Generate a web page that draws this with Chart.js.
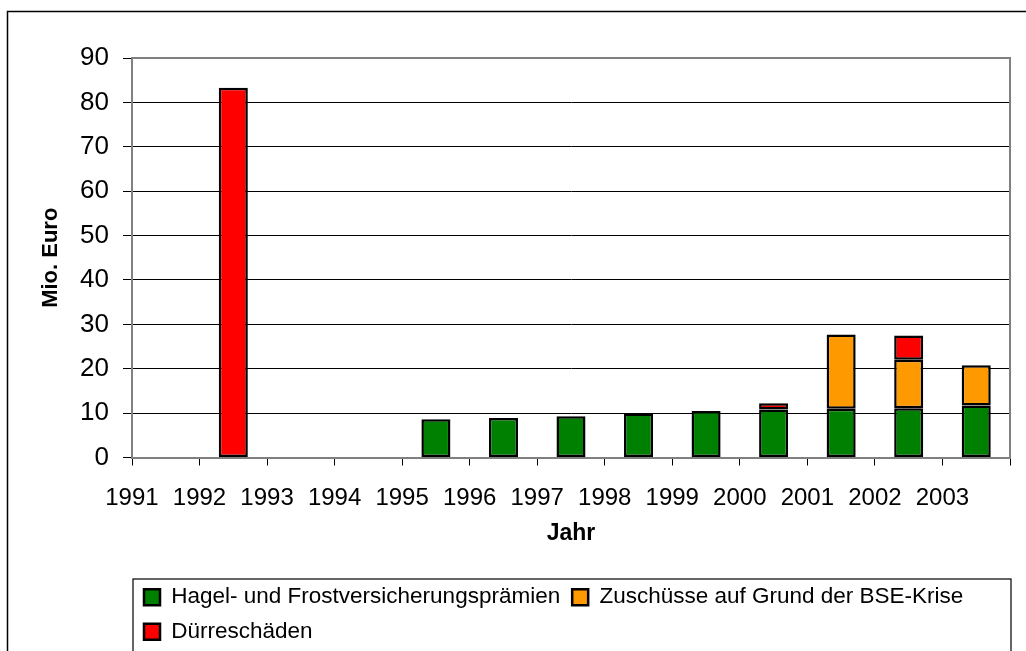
<!DOCTYPE html>
<html>
<head>
<meta charset="utf-8">
<script src="https://cdn.jsdelivr.net/npm/chart.js@4"></script>
<style>
  html, body { margin: 0; padding: 0; background: #fff; }
  canvas { display: block; }
</style>
</head>
<body>
<canvas id="hilfenChart" width="1026" height="651"></canvas>
<script>
// Jahre (Kategorien)
const years = ['1991', '1992', '1993', '1994', '1995', '1996', '1997',
  '1998', '1999', '2000', '2001', '2002', '2003'];

// Mio. Euro
const hagel = [null, null, null, null, 8.6, 8.9, 9.3, 9.9, 10.5, 10.8, 11.0, 11.1, 11.7];
const bse = [null, null, null, null, null, null, null, null, null, null, 16.7, 10.9, 9.1];
const duerre = [null, 83.3, null, null, null, null, null, null, null, 1.4, null, 5.5, null];

const yTicks = { min: 0, max: 90, step: 10 };

const FONT = "'Liberation Sans', Arial, sans-serif";

// rahmen um plotfläche, legende und ganzes diagramm
const frames = {
  id: 'frames',
  beforeDatasetsDraw(chart) {
    const { ctx, chartArea: a } = chart;
    ctx.save();
    ctx.strokeStyle = '#808080';
    ctx.lineWidth = 2;
    ctx.beginPath();
    ctx.moveTo(a.left, a.top);
    ctx.lineTo(a.right, a.top);
    ctx.lineTo(a.right, a.bottom);
    ctx.stroke();
    ctx.restore();
  },
  afterDraw(chart) {
    const { ctx, chartArea: a, legend } = chart;
    ctx.save();
    ctx.strokeStyle = '#000';
    ctx.lineWidth = 1.5;
    // äußerer rahmen (läuft rechts/unten aus dem bild)
    ctx.strokeRect(7.5, 11.5, 1040, 660);
    // legendenrahmen
    ctx.lineWidth = 1.2;
    ctx.strokeRect(a.left + 1, legend.top + 5, a.right - a.left, 100);
    ctx.restore();
  }
};

new Chart(document.getElementById('hilfenChart'), {
  type: 'bar',
  data: {
    labels: years,
    datasets: [
      {
        label: 'Hagel- und Frostversicherungsprämien',
        data: hagel,
        backgroundColor: '#008000',
        borderColor: '#000',
        borderWidth: 2.5,
        borderSkipped: false
      },
      {
        label: 'Zuschüsse auf Grund der BSE-Krise',
        data: bse,
        backgroundColor: '#FF9900',
        borderColor: '#000',
        borderWidth: 2.5,
        borderSkipped: false
      },
      {
        label: 'Dürreschäden',
        data: duerre,
        backgroundColor: '#FF0000',
        borderColor: '#000',
        borderWidth: 2.5,
        borderSkipped: false
      }
    ]
  },
  options: {
    responsive: false,
    animation: false,
    devicePixelRatio: 1,
    barPercentage: 0.43,
    categoryPercentage: 1,
    layout: {
      padding: { left: 30, top: 58, right: 16, bottom: -2 }
    },
    scales: {
      x: {
        stacked: true,
        offset: true,
        grid: {
          offset: true,
          drawOnChartArea: false,
          tickLength: 8,
          tickColor: '#000',
          tickWidth: 1
        },
        border: { color: '#808080', width: 2 },
        ticks: {
          color: '#000',
          font: { family: FONT, size: 24 },
          padding: 18,
          maxRotation: 0,
          autoSkip: false,
          labelOffset: -33.8 // beschriftung an den teilstrichen, nicht mittig
        },
        title: {
          display: true,
          text: 'Jahr',
          color: '#000',
          font: { family: FONT, size: 23, weight: 'bold' },
          padding: { top: 0, bottom: 27 }
        },
        afterFit(scale) { scale.height = 116.5; }
      },
      y: {
        stacked: true,
        min: yTicks.min,
        max: yTicks.max,
        grid: {
          color: '#000',
          lineWidth: 1,
          tickLength: 9,
          tickColor: '#000'
        },
        border: { color: '#808080', width: 2 },
        ticks: {
          stepSize: yTicks.step,
          color: '#000',
          font: { family: FONT, size: 26 },
          padding: 14
        },
        title: {
          display: true,
          text: 'Mio. Euro',
          color: '#000',
          font: { family: FONT, size: 22, weight: 'bold' },
          padding: { top: 8, bottom: 0 }
        },
        afterFit(scale) { scale.width = 102; }
      }
    },
    plugins: {
      tooltip: { enabled: false },
      legend: {
        position: 'bottom',
        align: 'start',
        fullSize: false,
        labels: {
          color: '#000',
          font: { family: FONT, size: 22.5 },
          boxWidth: 16,
          boxHeight: 16,
          padding: 12
        }
      }
    }
  },
  plugins: [frames]
});
</script>
</body>
</html>
